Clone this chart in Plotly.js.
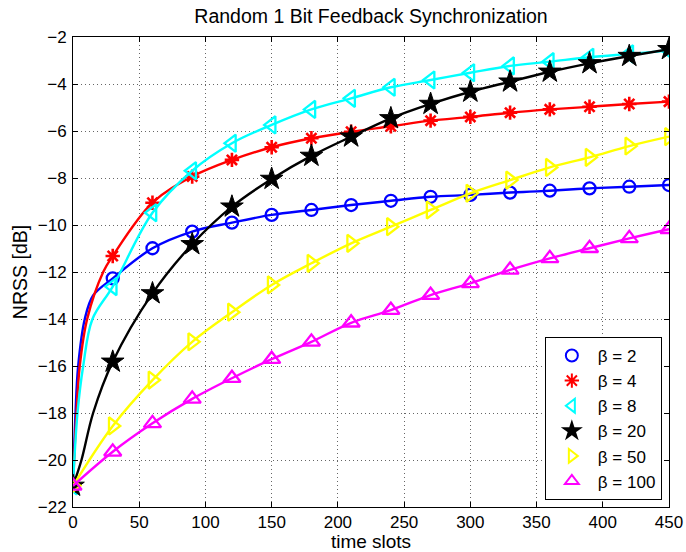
<!DOCTYPE html>
<html>
<head>
<meta charset="utf-8">
<script src="https://cdn.plot.ly/plotly-3.0.1.min.js"></script>
<style>html,body{margin:0;padding:0;background:#fff;}#chart{width:686px;height:552px;}</style>
</head>
<body>
<div id="chart"></div>
<script>
// marker positions (time slots)
var xMarks = [0,30,60,90,120,150,180,210,240,270,300,330,360,390,420,450];

// NRSS [dB] at the marker positions
var b2   = [-21.1,-12.27,-10.99,-10.28,-9.9,-9.57,-9.36,-9.15,-8.97,-8.8,-8.72,-8.62,-8.54,-8.44,-8.37,-8.3];
var b4   = [-21.1,-11.32,-9.05,-7.94,-7.23,-6.69,-6.31,-6.03,-5.8,-5.56,-5.4,-5.22,-5.08,-4.97,-4.85,-4.75];
var b8   = [-21.1,-12.62,-9.48,-7.69,-6.52,-5.74,-5.08,-4.61,-4.14,-3.83,-3.52,-3.23,-3.05,-2.86,-2.72,-2.58];
var b20  = [-21.1,-15.82,-12.91,-10.82,-9.22,-8.04,-7.06,-6.24,-5.46,-4.85,-4.33,-3.9,-3.48,-3.12,-2.81,-2.52];
var b50  = [-21.1,-18.55,-16.6,-14.97,-13.71,-12.55,-11.63,-10.78,-10.07,-9.36,-8.65,-8.09,-7.55,-7.12,-6.64,-6.24];
var b100 = [-21.1,-19.65,-18.44,-17.4,-16.52,-15.71,-14.97,-14.16,-13.62,-12.98,-12.48,-11.91,-11.42,-10.99,-10.57,-10.18];

var earlyX2  = [1.9, 3.9, 8.9, 15.2];   var earlyY2  = [-18, -16, -14, -13];
var earlyX4  = [2.6, 5.1, 10.7, 22.8];  var earlyY4  = [-18, -16, -14, -12];
var earlyX8  = [3.4, 7.7, 14.7];        var earlyY8  = [-18, -16, -14];
var earlyX20 = [6.4, 15.2];             var earlyY20 = [-20, -18];
var earlyX50 = [];                      var earlyY50 = [];
var earlyX100 = [];                     var earlyY100 = [];

var names   = ['β = 2','β = 4','β = 8','β = 20','β = 50','β = 100'];
var colors  = ['#0000ff','#ff0000','#00ffff','#000000','#ffff00','#ff00ff'];
var symbols = ['circle-open','asterisk-open','triangle-left-open','star','triangle-right-open','triangle-up-open'];
var sizes   = [12, 12, 15, 17, 15, 15];
var lw      = [2.3, 2.6, 2.3, 1, 2.3, 2.3];

var series = [b2,b4,b8,b20,b50,b100];
var earlyXs = [earlyX2,earlyX4,earlyX8,earlyX20,earlyX50,earlyX100];
var earlyYs = [earlyY2,earlyY4,earlyY8,earlyY20,earlyY50,earlyY100];

var traces = [];
series.forEach(function(ys, i){
  var pts = [];
  xMarks.forEach(function(x, k){ pts.push([x, ys[k]]); });
  earlyXs[i].forEach(function(x, k){ pts.push([x, earlyYs[i][k]]); });
  pts.sort(function(a,b){ return a[0]-b[0]; });
  traces.push({
    x: pts.map(function(p){return p[0];}),
    y: pts.map(function(p){return p[1];}),
    mode: 'lines', type: 'scatter',
    line: {color: colors[i], width: 2.4, shape: 'spline', smoothing: 1},
    showlegend: false, legendgroup: 'g'+i, hoverinfo: 'skip'
  });
  traces.push({
    x: xMarks, y: ys, mode: 'markers', type: 'scatter', name: names[i],
    legendgroup: 'g'+i,
    marker: {symbol: symbols[i], size: sizes[i], color: colors[i],
             line: {color: colors[i], width: lw[i]}}
  });
});

var font = 'Liberation Sans, Arial, Helvetica, sans-serif';
var layout = {
  width: 686, height: 552,
  margin: {l: 73, r: 17, t: 37, b: 45},
  paper_bgcolor: '#fff', plot_bgcolor: '#fff',
  font: {family: font, size: 17, color: '#000'},
  title: {text: 'Random 1 Bit Feedback Synchronization', font: {size: 19.5, family: font, color: '#000'},
          x: 0.5, xref: 'paper', xanchor: 'center', y: 0.970, yref: 'container', yanchor: 'middle'},
  xaxis: {
    range: [0, 450], tickvals: [0,50,100,150,200,250,300,350,400,450],
    ticks: 'inside', ticklen: 5, tickcolor: '#000', mirror: 'ticks',
    showline: true, linecolor: '#000', linewidth: 1,
    showgrid: true, gridcolor: '#666', griddash: '1px,3px', gridwidth: 1,
    zeroline: false, tickfont: {size: 17}, ticklabelstandoff: 0,
    title: {text: 'time slots', font: {size: 19}, standoff: 0}
  },
  yaxis: {
    range: [-22, -2], tickvals: [-22,-20,-18,-16,-14,-12,-10,-8,-6,-4,-2],
    ticks: 'inside', ticklen: 5, tickcolor: '#000', mirror: 'ticks',
    showline: true, linecolor: '#000', linewidth: 1,
    showgrid: true, gridcolor: '#666', griddash: '1px,3px', gridwidth: 1,
    zeroline: false, tickfont: {size: 17}, ticklabelstandoff: 2,
    title: {text: 'NRSS [dB]', font: {size: 19.5}, standoff: 4}
  },
  legend: {
    x: 0.988, y: 0.015, xanchor: 'right', yanchor: 'bottom',
    bgcolor: '#fff', bordercolor: '#000', borderwidth: 1,
    font: {size: 17, family: font}, itemsizing: 'constant', itemwidth: 42, tracegroupgap: 0
  }
};

Plotly.newPlot('chart', traces, layout, {displayModeBar: false, staticPlot: true});
</script>
</body>
</html>
